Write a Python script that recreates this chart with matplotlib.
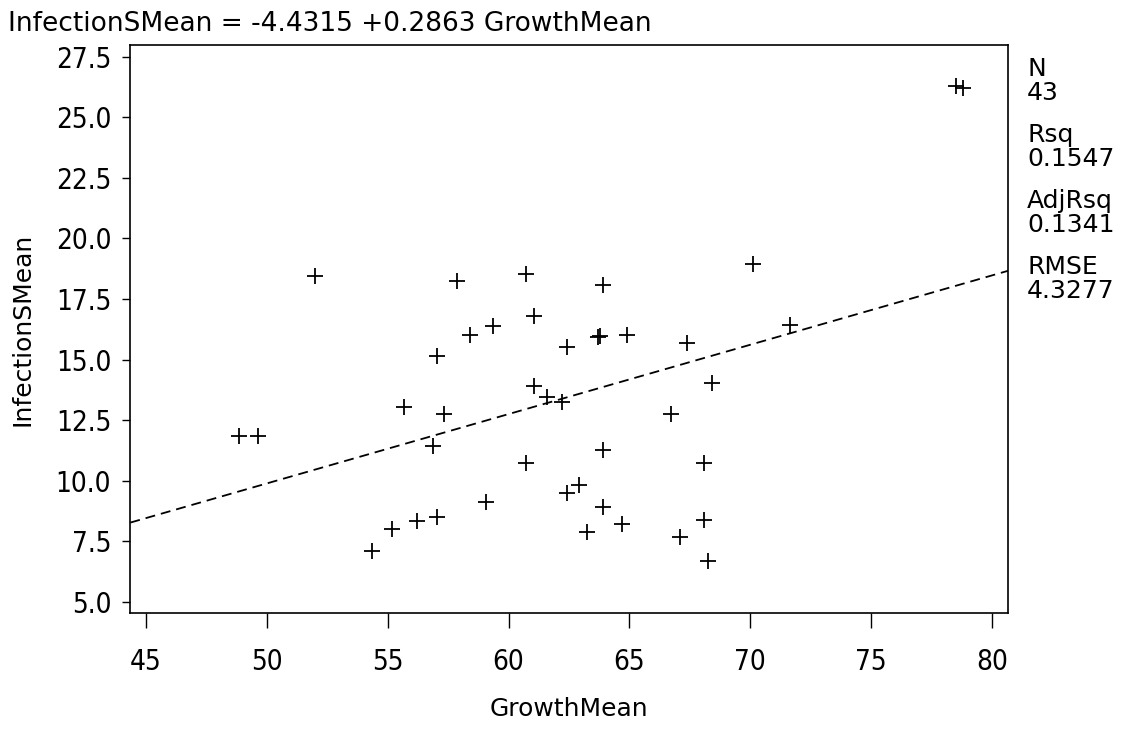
import matplotlib
matplotlib.use("Agg")
import matplotlib.pyplot as plt
import numpy as np

# Werte
growth_mean = [48.83, 49.65, 52.00, 54.35, 55.18, 55.66, 56.22, 56.88, 57.02, 57.02,
               57.35, 57.88, 58.40, 59.05, 59.37, 60.72, 60.72, 61.05, 61.05, 61.60,
               62.23, 62.43, 62.40, 62.92, 63.23, 63.70, 63.80, 63.90, 63.90, 63.90,
               64.70, 64.89, 66.74, 67.09, 67.40, 68.07, 68.07, 68.26, 68.40, 70.13,
               71.63, 78.50, 78.80]
infection_s_mean = [11.84, 11.84, 18.44, 7.10, 7.99, 13.02, 8.34, 11.43, 15.14, 8.48,
                    12.75, 18.25, 16.01, 9.13, 16.38, 18.53, 10.74, 16.81, 13.90, 13.44,
                    13.23, 15.53, 9.47, 9.82, 7.89, 15.94, 15.96, 18.07, 11.26, 8.92,
                    8.21, 16.01, 12.74, 7.66, 15.67, 10.71, 8.37, 6.69, 14.02, 18.94,
                    16.42, 26.30, 26.20]

intercept = -4.4315
slope = 0.2863

stat_names = ["N", "Rsq", "AdjRsq", "RMSE"]
stat_values = ["43", "0.1547", "0.1341", "4.3277"]

x_ticks = [45, 50, 55, 60, 65, 70, 75, 80]
y_ticks = [5.0, 7.5, 10.0, 12.5, 15.0, 17.5, 20.0, 22.5, 25.0, 27.5]

plt.rcParams["font.family"] = "DejaVu Sans"

W, H = 1128, 730
fig = plt.figure(figsize=(W / 100, H / 100), dpi=100)
fig.patch.set_facecolor("white")

# Achsenrahmen in Pixeln
left, right, top, bottom = 130.3, 1008.3, 44.5, 613.3
ax = fig.add_axes([left / W, 1 - bottom / H, (right - left) / W, (bottom - top) / H])

ax.set_xlim(44.35, 80.68)
ax.set_ylim(4.52, 28.01)

# Punkte
ax.plot(growth_mean, infection_s_mean, "+", color="black", ms=11, mew=1.3)

# Regressionsgerade
xs = np.array(ax.get_xlim())
ax.plot(xs, intercept + slope * xs, color="black", lw=1.3, dashes=(5.5, 3.3))

ax.set_xticks(x_ticks)
ax.set_xticklabels([str(t) for t in x_ticks])
ax.set_yticks(y_ticks)
ax.set_yticklabels(["%.1f" % t for t in y_ticks])

ax.tick_params(axis="x", length=10.8, width=1.0, pad=14, labelsize=20)
ax.tick_params(axis="y", length=5.8, width=1.0, pad=8, labelsize=20)
for lab in ax.get_xticklabels() + ax.get_yticklabels():
    lab.set_fontstretch("condensed")
for s in ax.spines.values():
    s.set_linewidth(1.2)

ax.set_xlabel("GrowthMean", fontsize=18, labelpad=15)
ax.set_ylabel("InfectionSMean", fontsize=18, labelpad=15)

# Titel mit Regressionsgleichung
fig.text(8 / W, 1 - 24 / H, "InfectionSMean = -4.4315 +0.2863 GrowthMean",
         fontsize=19, ha="left", va="center")

# Statistik rechts
block_y = [81.0, 147.0, 213.0, 279.0]
for name, val, by in zip(stat_names, stat_values, block_y):
    fig.text(1027 / W, 1 - by / H, name + "\n" + val, fontsize=18,
             ha="left", va="center", linespacing=1.0)

fig.savefig("out.png", dpi=100)
